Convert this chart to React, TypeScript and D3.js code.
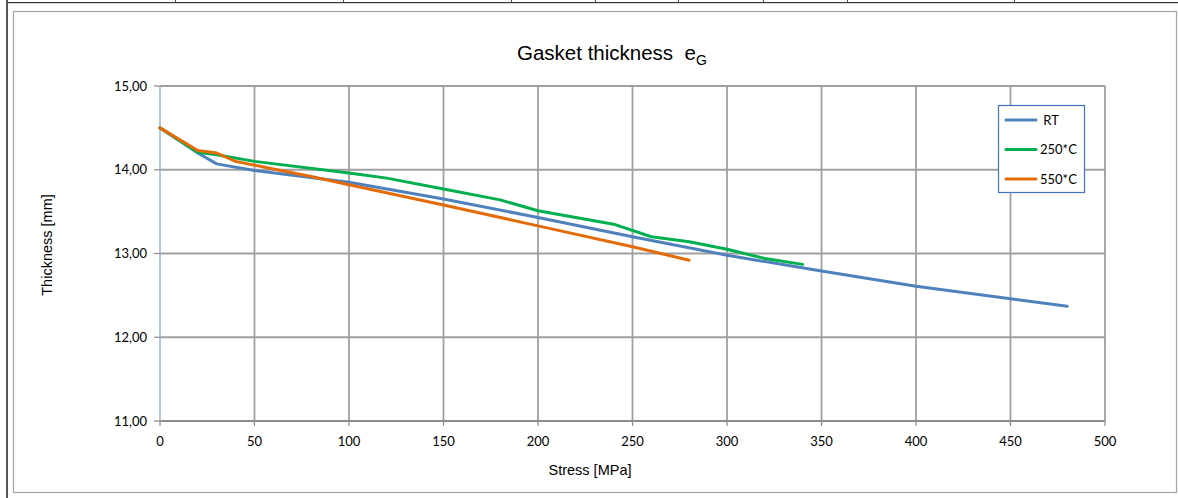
import * as d3 from 'd3';

// stress [MPa] vs thickness [mm]
const rtStress = [0, 20, 30, 50, 100, 150, 200, 250, 300, 350, 400, 450, 480];
const rtThick = [14.5, 14.2, 14.07, 13.99, 13.85, 13.65, 13.43, 13.2, 12.98, 12.79, 12.61, 12.46, 12.37];

const s250Stress = [0, 20, 30, 50, 100, 120, 150, 180, 200, 220, 240, 260, 280, 300, 320, 340];
const s250Thick = [14.5, 14.21, 14.18, 14.1, 13.96, 13.9, 13.77, 13.64, 13.51, 13.43, 13.35, 13.2, 13.14, 13.05, 12.94, 12.87];

const s550Stress = [0, 20, 30, 40, 60, 80, 100, 150, 200, 250, 280];
const s550Thick = [14.5, 14.23, 14.2, 14.1, 14.01, 13.92, 13.82, 13.58, 13.33, 13.08, 12.92];

const seriesNames = ['RT', '250*C', '550*C'];
const seriesColors = ['#4f81bd', '#00b050', '#e36c09'];

const xTicks = [0, 50, 100, 150, 200, 250, 300, 350, 400, 450, 500];
const yTicks = [11, 12, 13, 14, 15];

// spreadsheet cell dividers above the chart
const cellEdges = [175, 343, 511, 595, 678, 763, 847, 1014];

const W = 1178;
const H = 498;
const plot = { left: 160, right: 1105, top: 86, bottom: 421 };

export default function App() {
  const x = d3.scaleLinear().domain([0, 500]).range([plot.left, plot.right]);
  const y = d3.scaleLinear().domain([11, 15]).range([plot.bottom, plot.top]);

  const series = [
    { name: seriesNames[0], color: seriesColors[0], pts: rtStress.map((s, i) => [s, rtThick[i]]) },
    { name: seriesNames[1], color: seriesColors[1], pts: s250Stress.map((s, i) => [s, s250Thick[i]]) },
    { name: seriesNames[2], color: seriesColors[2], pts: s550Stress.map((s, i) => [s, s550Thick[i]]) },
  ];

  const line = d3.line<number[]>()
    .x(d => x(d[0]))
    .y(d => y(d[1]));

  const fmt = (v: number) => v.toFixed(2).replace('.', ',');
  const tickFont = 'Lato, Calibri, sans-serif';
  const arial = '"Liberation Sans", Arial, sans-serif';

  return (
    <div style={{ position: 'absolute', left: 0, top: 0 }}>
      <svg width={W} height={H} style={{ display: 'block', background: '#fff' }}>
        {/* sheet borders */}
        <rect x={6} y={0} width={2} height={H} fill="#555" />
        <rect x={8} y={2} width={W - 8} height={1.2} fill="#333" />
        {cellEdges.map(cx => (
          <rect key={cx} x={cx} y={0} width={1} height={3} fill="#444" />
        ))}
        <rect x={13.5} y={11.5} width={1163} height={481} fill="#fff" stroke="#a6a6a6" strokeWidth={1.2} />

        {/* title */}
        <text x={517} y={60} fontFamily={arial} fontSize={20.5} fill="#000">
          Gasket thickness{'\u00a0\u00a0'}e
          <tspan fontSize={14} dy={5}>G</tspan>
        </text>

        {/* grid */}
        {xTicks.filter(t => t > 0).map(t => (
          <line key={'gx' + t} x1={x(t)} x2={x(t)} y1={plot.top} y2={plot.bottom} stroke="#a0a0a0" strokeWidth={1.8} />
        ))}
        {yTicks.filter(t => t > 11).map(t => (
          <line key={'gy' + t} x1={plot.left} x2={plot.right} y1={y(t)} y2={y(t)} stroke="#a0a0a0" strokeWidth={1.8} />
        ))}

        {/* axes */}
        <line x1={plot.left} x2={plot.right} y1={plot.bottom} y2={plot.bottom} stroke="#8c8c8c" strokeWidth={1.8} />
        <line x1={plot.left} x2={plot.left} y1={plot.top} y2={plot.bottom} stroke="#9fb4d8" strokeWidth={1.5} />
        {yTicks.map(t => (
          <g key={'yt' + t}>
            <line x1={plot.left - 6} x2={plot.left} y1={y(t)} y2={y(t)} stroke="#8c8c8c" strokeWidth={1.2} />
            <text x={147} y={y(t) + 4.5} textAnchor="end" fontFamily={tickFont} fontSize={13} fill="#000">
              {fmt(t)}
            </text>
          </g>
        ))}
        {xTicks.map(t => (
          <g key={'xt' + t}>
            <line x1={x(t)} x2={x(t)} y1={plot.bottom} y2={plot.bottom + 5} stroke="#8c8c8c" strokeWidth={1.2} />
            <text x={x(t)} y={446} textAnchor="middle" fontFamily={tickFont} fontSize={13} fill="#000">
              {t}
            </text>
          </g>
        ))}

        {/* axis titles */}
        <text x={590} y={475} textAnchor="middle" fontFamily={arial} fontSize={14.5} fill="#000">
          Stress [MPa]
        </text>
        <text transform="translate(52,245) rotate(-90)" textAnchor="middle" fontFamily={arial} fontSize={14.5} fill="#000">
          Thickness [mm]
        </text>

        {/* series */}
        {series.map(s => (
          <path key={s.name} d={line(s.pts) || ''} fill="none" stroke={s.color} strokeWidth={3} strokeLinejoin="round" strokeLinecap="round" />
        ))}

        {/* legend */}
        <rect x={998.5} y={105.5} width={86} height={87} fill="#fff" stroke="#4472c4" strokeWidth={1.2} />
        {series.map((s, i) => (
          <g key={'lg' + s.name}>
            <line x1={1006} x2={1036} y1={120 + i * 29.5} y2={120 + i * 29.5} stroke={s.color} strokeWidth={3} strokeLinecap="round" />
            <text x={1040} y={124.5 + i * 29.5} fontFamily={tickFont} fontSize={13} fill="#000">
              {i === 0 ? '\u00a0' + s.name : s.name}
            </text>
          </g>
        ))}
      </svg>
    </div>
  );
}
